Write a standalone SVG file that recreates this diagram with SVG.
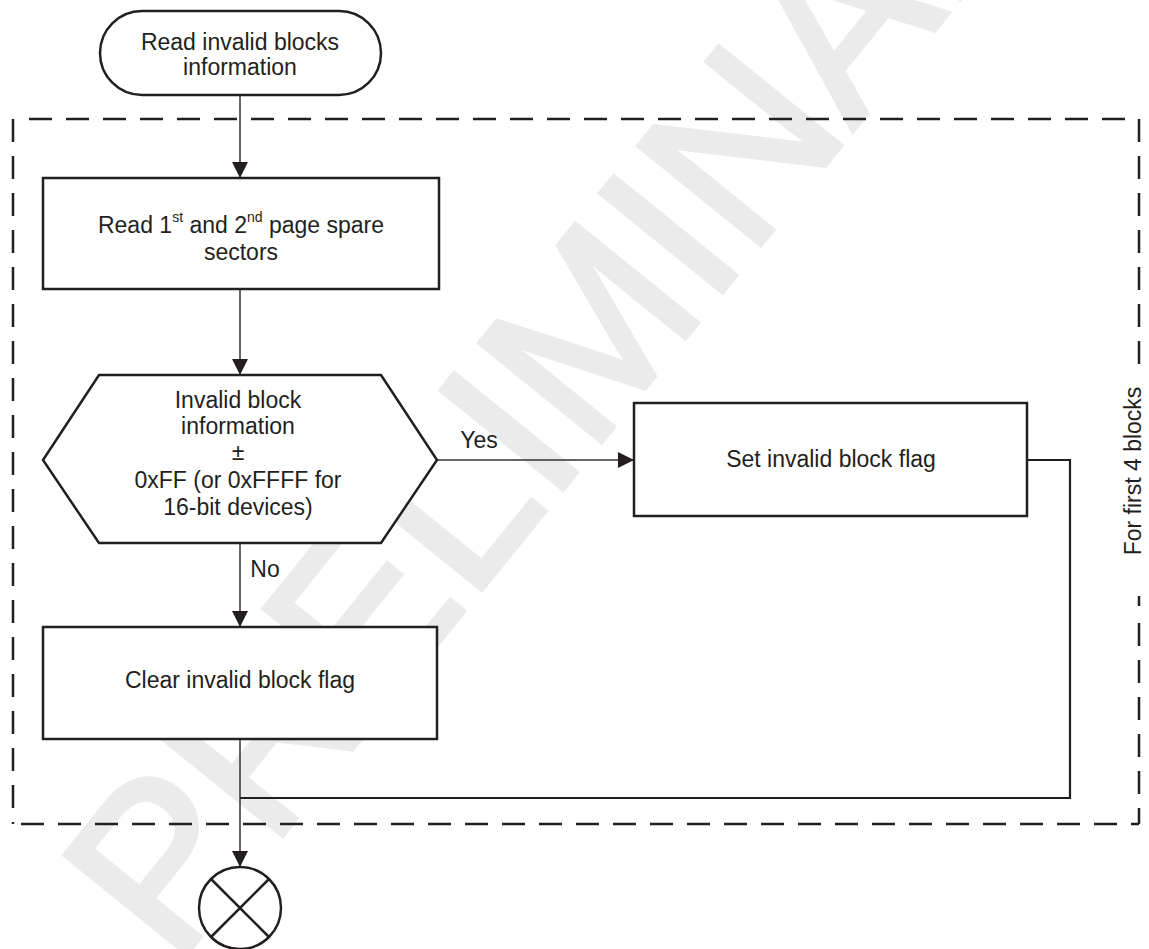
<svg xmlns="http://www.w3.org/2000/svg" width="1149" height="949" viewBox="0 0 1149 949">
<defs>
<style>
.t{font-family:"Liberation Sans",Arial,sans-serif;font-size:23px;fill:#231f20;text-anchor:middle}
.sup{font-size:14px}
.box{fill:#fff;stroke:#231f20;stroke-width:2.5}
.con{fill:none;stroke:#333;stroke-width:1.5}
.loop{fill:none;stroke:#231f20;stroke-width:2.2}
.dash{fill:none;stroke:#231f20;stroke-width:2.5;stroke-dasharray:23 14}
.wm{font-family:"Liberation Sans",Arial,sans-serif;font-size:228px;fill:#ebebeb;stroke:#ebebeb;stroke-width:5}
</style>
<marker id="ah" viewBox="0 0 16 16" markerWidth="16" markerHeight="16" refX="16" refY="8" orient="auto" markerUnits="userSpaceOnUse">
<path d="M0,0 L16,8 L0,16 Z" fill="#231f20"/>
</marker>
</defs>
<rect width="1149" height="949" fill="#fff"/>
<text class="wm" transform="translate(175,968) rotate(-51)">PRELIMINARY</text>
<g id="loopbox">
<line class="dash" x1="29" y1="119" x2="1139" y2="119"/>
<line class="dash" x1="13" y1="119" x2="13" y2="824"/>
<line class="dash" x1="13" y1="824" x2="1139" y2="824" stroke-dashoffset="-8"/>
<line class="dash" x1="1139" y1="119" x2="1139" y2="364"/>
<line x1="1139" y1="596" x2="1139" y2="606" stroke="#231f20" stroke-width="2.5"/>
<line class="dash" x1="1139" y1="623" x2="1139" y2="824"/>
<text class="t" transform="translate(1141,471) rotate(-90)">For first 4 blocks</text>
</g>
<g id="connectors">
<line class="con" x1="240" y1="95" x2="240" y2="178" marker-end="url(#ah)"/>
<line class="con" x1="240" y1="289" x2="240" y2="375" marker-end="url(#ah)"/>
<line class="con" x1="240" y1="543" x2="240" y2="627" marker-end="url(#ah)"/>
<line class="con" x1="437" y1="460" x2="634" y2="460" marker-end="url(#ah)"/>
<line class="con" x1="240" y1="739" x2="240" y2="867" marker-end="url(#ah)"/>
<polyline class="loop" points="1027,460 1070,460 1070,798 240,798"/>
<text class="t" x="479" y="448">Yes</text>
<text class="t" x="265" y="577">No</text>
</g>
<g id="start">
<rect class="box" x="100" y="11" width="281" height="84" rx="42" ry="42"/>
<text class="t" x="240" y="50">Read invalid blocks</text>
<text class="t" x="240" y="75">information</text>
</g>
<g id="read">
<rect class="box" x="43" y="178" width="396" height="111"/>
<text class="t" x="241" y="233">Read 1<tspan class="sup" dy="-11">st</tspan><tspan dy="11"> and 2</tspan><tspan class="sup" dy="-11">nd</tspan><tspan dy="11"> page spare</tspan></text>
<text class="t" x="241" y="260">sectors</text>
</g>
<g id="decision">
<polygon class="box" points="43,460 99,375 381,375 437,460 381,543 99,543"/>
<text class="t" x="238" y="408">Invalid block</text>
<text class="t" x="238" y="434">information</text>
<text class="t" x="238" y="460">±</text>
<text class="t" x="238" y="488">0xFF (or 0xFFFF for</text>
<text class="t" x="238" y="515">16-bit devices)</text>
</g>
<g id="set">
<rect class="box" x="634" y="403" width="393" height="113"/>
<text class="t" x="831" y="467">Set invalid block flag</text>
</g>
<g id="clear">
<rect class="box" x="43" y="627" width="394" height="112"/>
<text class="t" x="240" y="688">Clear invalid block flag</text>
</g>
<g id="end">
<circle cx="240" cy="908" r="41" fill="#fff" stroke="#231f20" stroke-width="2.5"/>
<line x1="211" y1="879" x2="269" y2="937" stroke="#231f20" stroke-width="2.5"/>
<line x1="269" y1="879" x2="211" y2="937" stroke="#231f20" stroke-width="2.5"/>
</g>
</svg>
